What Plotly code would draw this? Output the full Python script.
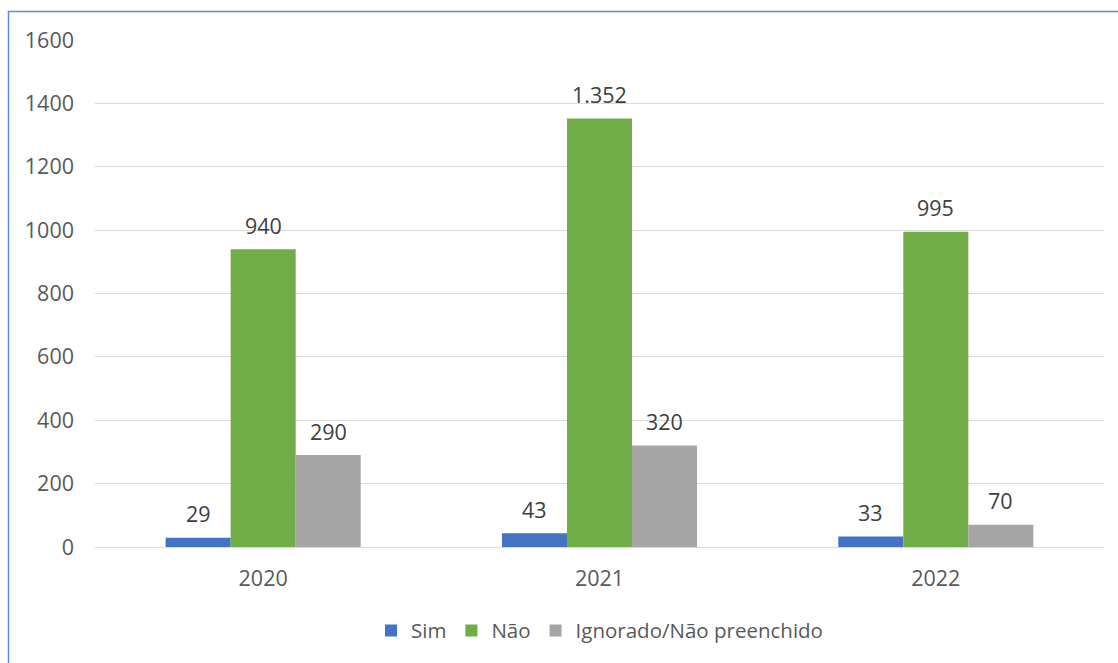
import plotly.graph_objects as go

# Casos por ano e resposta
anos = ["2020", "2021", "2022"]
series = ["Sim", "Não", "Ignorado/Não preenchido"]
sim = [29, 43, 33]
nao = [940, 1352, 995]
ignorado = [290, 320, 70]
rotulos_sim = ["29", "43", "33"]
rotulos_nao = ["940", "1.352", "995"]
rotulos_ign = ["290", "320", "70"]

cores = ["#4472C4", "#70AD47", "#A5A5A5"]
valores = [sim, nao, ignorado]
rotulos = [rotulos_sim, rotulos_nao, rotulos_ign]

W, H = 1118, 663
ML, MR, MT, MB = 95, 14, 40, 116
BARGAP = 0.42
FONTE = "Open Sans, Segoe UI, sans-serif"
TAM = 21.5

fig = go.Figure()
for nome, vals, cor in zip(series, valores, cores):
    fig.add_trace(go.Bar(name=nome, x=anos, y=vals, marker=dict(color=cor, line=dict(width=0))))

# rótulos de dados acima de cada barra (x = índice da categoria)
plot_w = W - ML - MR
bar_px = plot_w / len(anos) * (1 - BARGAP) / len(series)
anns = []
for i, (vals, labs) in enumerate(zip(valores, rotulos)):
    for j, (v, t) in enumerate(zip(vals, labs)):
        anns.append(dict(x=j, y=v, text=t, showarrow=False, xref="x", yref="y",
                         xshift=(i - 1) * bar_px, yshift=24, yanchor="middle",
                         font=dict(family=FONTE, size=TAM, color="#404040")))

plot_h = H - MT - MB
fig.update_layout(
    width=W, height=H,
    margin=dict(l=ML, r=MR, t=MT, b=MB),
    paper_bgcolor="white", plot_bgcolor="white",
    barmode="group", bargap=BARGAP, bargroupgap=0,
    font=dict(family=FONTE, size=TAM, color="#595959"),
    annotations=anns,
    legend=dict(orientation="h", x=0.5, xanchor="center", y=-0.165, yanchor="middle",
                font=dict(size=20.5, color="#595959"), traceorder="normal"),
    shapes=[dict(type="rect", xref="paper", yref="paper",
                 x0=(8.5 - ML) / plot_w, x1=(W + 10 - ML) / plot_w,
                 y0=-(H + 10 - (H - MB)) / plot_h, y1=1 + (MT - 11.5) / plot_h,
                 line=dict(color="#5B8BD6", width=1.5), fillcolor="rgba(0,0,0,0)", layer="below")],
)
fig.update_yaxes(range=[0, 1600], dtick=200, showgrid=True, gridcolor="#D9D9D9", gridwidth=1,
                 zeroline=True, zerolinecolor="#D9D9D9", zerolinewidth=1, showline=False,
                 ticks="", ticklabelstandoff=20, tickfont=dict(size=TAM, color="#595959"),
                 tickformat="d")
fig.update_xaxes(type="category", range=[-0.5, len(anos) - 0.5], showgrid=False, showline=False,
                 ticks="", ticklabelstandoff=16, tickfont=dict(size=TAM, color="#595959"))

fig.write_html("out.html")
